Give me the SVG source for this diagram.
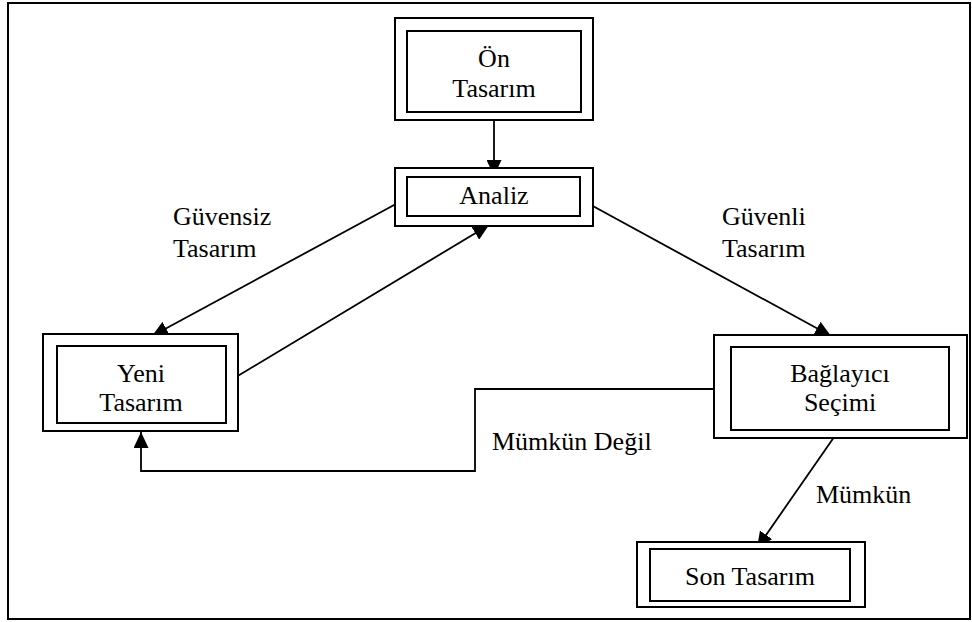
<svg xmlns="http://www.w3.org/2000/svg" width="972" height="622" viewBox="0 0 972 622">
<style>
.o{fill:#fff;stroke:#000;stroke-width:2}
.i{fill:none;stroke:#000;stroke-width:2}
.t{font-size:26px;fill:#000}
.c{text-anchor:middle}
.e{fill:none;stroke:#000;stroke-width:1.8}
</style>
<defs>
<marker id="ah" markerUnits="userSpaceOnUse" markerWidth="17" markerHeight="15" refX="16" refY="7.5" orient="auto">
<path d="M0,0 L16,7.5 L0,15 Z" fill="#000"/>
</marker>
</defs>
<rect x="8" y="3" width="962" height="616" fill="#fff" stroke="#000" stroke-width="2"/>
<g id="connectors">
<line class="e" x1="494" y1="112" x2="494" y2="176" marker-end="url(#ah)"/>
<line class="e" x1="407" y1="198" x2="152" y2="336" marker-end="url(#ah)"/>
<line class="e" x1="226" y1="383" x2="489" y2="225" marker-end="url(#ah)"/>
<line class="e" x1="580" y1="199" x2="831" y2="336" marker-end="url(#ah)"/>
<polyline class="e" points="731,389 475,389 475,471 141,471 141,432" marker-end="url(#ah)"/>
<line class="e" x1="839" y1="430" x2="757" y2="548" marker-end="url(#ah)"/>
</g>
<g font-family="Liberation Serif, Times New Roman, serif">
<g id="n_on">
<rect class="o" x="395" y="18" width="198" height="102"/>
<rect class="i" x="407" y="31" width="174" height="81"/>
<text class="t c" x="494" y="67">Ön</text>
<text class="t c" x="494" y="97">Tasarım</text>
</g>
<g id="n_analiz">
<rect class="o" x="395" y="168" width="198" height="58"/>
<rect class="i" x="407" y="177" width="173" height="39"/>
<text class="t c" x="494" y="204">Analiz</text>
</g>
<g id="n_yeni">
<rect class="o" x="43" y="334" width="195" height="97"/>
<rect class="i" x="57" y="346" width="169" height="77"/>
<text class="t c" x="141" y="382">Yeni</text>
<text class="t c" x="141" y="411">Tasarım</text>
</g>
<g id="n_baglayici">
<rect class="o" x="714" y="335" width="253" height="103"/>
<rect class="i" x="731" y="347" width="218" height="83"/>
<text class="t c" x="840" y="382">Bağlayıcı</text>
<text class="t c" x="840" y="411">Seçimi</text>
</g>
<g id="n_son">
<rect class="o" x="637" y="542" width="228" height="65"/>
<rect class="i" x="650" y="549" width="200" height="52"/>
<text class="t c" x="750" y="585">Son Tasarım</text>
</g>
<g id="labels">
<text class="t" x="173" y="225">Güvensiz</text>
<text class="t" x="173" y="257">Tasarım</text>
<text class="t" x="722" y="225">Güvenli</text>
<text class="t" x="722" y="257">Tasarım</text>
<text class="t" x="492" y="450">Mümkün Değil</text>
<text class="t" x="816" y="503">Mümkün</text>
</g>
</g>
</svg>
